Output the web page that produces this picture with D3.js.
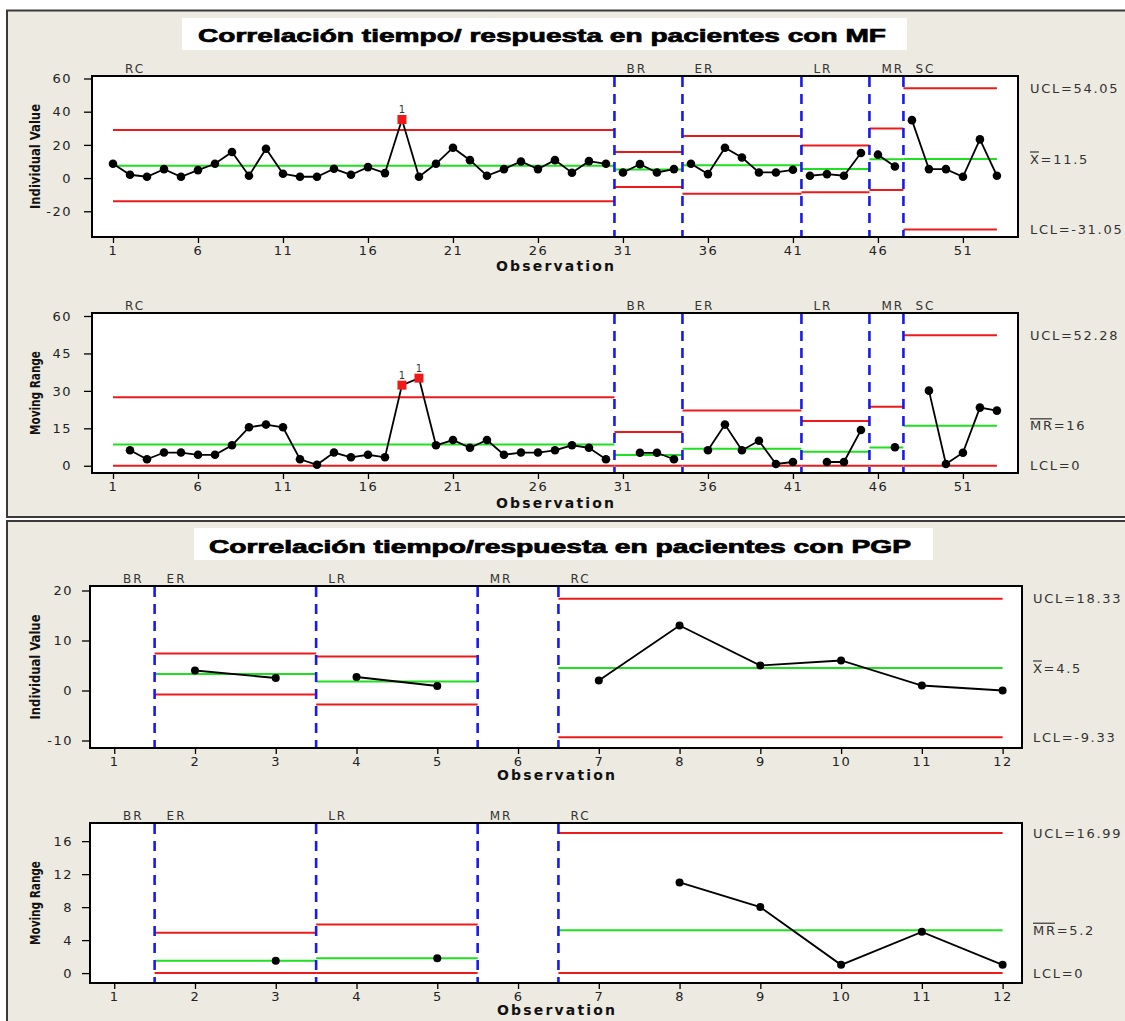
<!DOCTYPE html>
<html><head><meta charset="utf-8">
<script src="https://cdn.jsdelivr.net/npm/d3@7"></script>
<style>body{margin:0;background:#fff}</style>
</head><body>
<svg id="c" width="1125" height="1021"></svg>
<script>
// ---------------- DATA ----------------
// MF (top panel)
const mfTitle = "Correlación tiempo/ respuesta en pacientes con MF";
const mfStageNames = ["RC","BR","ER","LR","MR","SC"];
const mfStageFirst = [1,31,35,42,46,48];
const mfStageLast  = [30,34,41,45,47,53];
const mfIndividual = [8.6,2.0,0.8,5.4,0.8,4.8,8.6,15.7,1.4,17.7,
                      2.6,0.8,0.8,5.6,2.0,6.6,3.0,35.3,0.8,8.6,
                      18.3,10.8,1.4,5.4,10.0,5.4,10.8,3.2,10.2,8.6,
                      3.4,8.4,3.4,5.4,8.6,2.4,18.3,12.4,3.4,3.4,
                      5.0,1.4,2.4,1.4,15.1,14.1,7.0,34.9,5.4,5.4,
                      0.8,23.3,1.4];
const mfMovingRange = [null,6.2,2.6,5.3,5.3,4.4,4.4,8.2,15.4,16.5,
                       15.4,2.6,0.4,5.3,3.4,4.4,3.4,32.3,35.1,8.2,
                       10.3,7.2,10.3,4.4,5.3,5.3,6.2,8.2,7.2,2.6,
                       null,5.2,5.2,2.6,null,6.2,16.5,6.2,10.0,0.7,
                       1.5,null,1.5,1.5,14.3,null,7.4,null,30.1,0.7,
                       5.2,23.3,22.1];
const mfIndUCL = [28.9,15.7,25.3,19.7,29.9,54.05];
const mfIndCL  = [7.4,5.15,7.8,5.5,11.3,11.5];
const mfIndLCL = [-14.0,-5.4,-9.5,-8.6,-7.2,-31.05];
const mfMrUCL  = [27.4,13.5,22.1,17.9,23.6,52.28];
const mfMrCL   = [8.5,4.3,6.8,5.6,7.3,16.0];
const mfMrLCL  = [0,0,0,0,0,0];
const mfIndFlagged = [18];
const mfMrFlagged = [18,19];
const mfXTicks = [1,6,11,16,21,26,31,36,41,46,51];
const mfIndYTicks = [-20,0,20,40,60];
const mfMrYTicks = [0,15,30,45,60];
const mfIndLabels = ["UCL=54.05","X=11.5","LCL=-31.05"];
const mfMrLabels = ["UCL=52.28","MR=16","LCL=0"];

// PGP (bottom panel)
const pgpTitle = "Correlación tiempo/respuesta en pacientes con PGP";
const pgpStageNames = ["BR","ER","LR","MR","RC"];
const pgpStageFirst = [1,2,4,6,7];
const pgpStageLast  = [1,3,5,6,12];
const pgpIndividual = [null,4.0,2.5,2.7,0.9,null,2,13,5,6,1,0];
const pgpMovingRange = [null,null,1.5,null,1.8,null,null,11,8,1,5,1];
const pgpIndUCL = [null,7.4,6.8,null,18.33];
const pgpIndCL  = [null,3.3,1.8,null,4.5];
const pgpIndLCL = [null,-0.8,-2.8,null,-9.33];
const pgpMrUCL  = [null,4.9,5.9,null,16.99];
const pgpMrCL   = [null,1.5,1.8,null,5.2];
const pgpMrLCL  = [null,0,0,null,0];
const pgpXTicks = [1,2,3,4,5,6,7,8,9,10,11,12];
const pgpIndYTicks = [-10,0,10,20];
const pgpMrYTicks = [0,4,8,12,16];
const pgpIndLabels = ["UCL=18.33","X=4.5","LCL=-9.33"];
const pgpMrLabels = ["UCL=16.99","MR=5.2","LCL=0"];

// ---------------- DRAWING ----------------
const RED = "#ee1a1a", GREEN = "#1ee01e", BLUE = "#1a1af0";
const FONT = "'DejaVu Sans', Verdana, sans-serif";
const svg = d3.select("#c");

// panels
svg.append("rect").attr("x",7).attr("y",10.5).attr("width",1130).attr("height",506.5)
  .attr("fill","#edeae2").attr("stroke","#3a3a3a").attr("stroke-width",2);
svg.append("rect").attr("x",7).attr("y",521).attr("width",1130).attr("height",520)
  .attr("fill","#edeae2").attr("stroke","#3a3a3a").attr("stroke-width",2);

function title(text, bx, by, bw, bh, tx, ty, tlen, fs) {
  svg.append("rect").attr("x",bx).attr("y",by).attr("width",bw).attr("height",bh).attr("fill","#fff");
  svg.append("text").attr("x",tx).attr("y",ty).text(text)
    .attr("font-family","'Liberation Sans', Arial, sans-serif").attr("font-weight","bold")
    .attr("font-size",fs).attr("fill","#000").attr("stroke","#000").attr("stroke-width",0.7)
    .attr("textLength",tlen).attr("lengthAdjust","spacingAndGlyphs");
}
title(mfTitle, 182, 18, 725, 32, 198, 42, 688, 19);
title(pgpTitle, 194, 528, 739, 32, 209, 553, 702, 17.5);

function drawChart(o) {
  const x = d3.scaleLinear().domain(o.xDomain).range([o.l, o.r]);
  const y = d3.scaleLinear().domain(o.yDomain).range([o.b, o.t]);
  const g = svg.append("g");
  g.append("rect").attr("x",o.l).attr("y",o.t).attr("width",o.r-o.l).attr("height",o.b-o.t).attr("fill","#fff");
  const N = o.values.length;

  // control limit lines per stage
  o.names.forEach((nm,i) => {
    const x0 = Math.max(1, o.first[i]-0.5), x1 = Math.min(N, o.last[i]+0.5);
    [[o.ucl,RED],[o.lcl,RED],[o.cl,GREEN]].forEach(([arr,c]) => {
      if (arr[i] == null) return;
      g.append("line").attr("x1",x(x0)).attr("x2",x(x1)).attr("y1",y(arr[i])).attr("y2",y(arr[i]))
        .attr("stroke",c).attr("stroke-width",2);
    });
  });

  // stage boundaries
  o.first.slice(1).forEach(f => {
    g.append("line").attr("x1",x(f-0.5)).attr("x2",x(f-0.5)).attr("y1",o.t+1).attr("y2",o.b-1)
      .attr("stroke",BLUE).attr("stroke-width",2.6).attr("stroke-dasharray","10,7");
  });

  // data lines per stage
  const pts = o.values.map((v,i) => ({obs:i+1, v:v}));
  const line = d3.line().defined(d => d.v != null).x(d => x(d.obs)).y(d => y(d.v));
  o.names.forEach((nm,i) => {
    const seg = pts.filter(d => d.obs >= o.first[i] && d.obs <= o.last[i]);
    g.append("path").datum(seg).attr("d",line).attr("fill","none")
      .attr("stroke","#000").attr("stroke-width",1.8);
  });

  // points
  const valid = pts.filter(d => d.v != null);
  g.selectAll("circle.pt").data(valid.filter(d => !o.flagged.includes(d.obs))).enter()
    .append("circle").attr("cx",d=>x(d.obs)).attr("cy",d=>y(d.v)).attr("r",o.pr).attr("fill","#000");
  const fl = valid.filter(d => o.flagged.includes(d.obs));
  g.selectAll("rect.fl").data(fl).enter().append("rect")
    .attr("x",d=>x(d.obs)-4.5).attr("y",d=>y(d.v)-4.5).attr("width",9).attr("height",9).attr("fill",RED);
  g.selectAll("text.fl").data(fl).enter().append("text")
    .attr("x",d=>x(d.obs)).attr("y",d=>y(d.v)-6).attr("text-anchor","middle")
    .attr("font-family",FONT).attr("font-size",10).attr("fill","#333").text("1");

  // axes
  const fmt = d => String(d);
  const xa = g.append("g").attr("transform",`translate(0,${o.b})`)
    .call(d3.axisBottom(x).tickValues(o.xTicks).tickSize(6).tickPadding(3).tickFormat(fmt));
  const ya = g.append("g").attr("transform",`translate(${o.l},0)`)
    .call(d3.axisLeft(y).tickValues(o.yTicks).tickSize(o.yts).tickPadding(o.ytp).tickFormat(fmt));
  [xa,ya].forEach(a => {
    a.select(".domain").remove();
    a.selectAll("line").attr("stroke","#000").attr("stroke-width",1.3);
    a.selectAll("text").attr("font-family",FONT).attr("font-size",13).attr("fill","#222")
      .attr("letter-spacing","1.5px");
  });

  // frame
  g.append("rect").attr("x",o.l).attr("y",o.t).attr("width",o.r-o.l).attr("height",o.b-o.t)
    .attr("fill","none").attr("stroke","#000").attr("stroke-width",2);

  // stage labels
  o.names.forEach((nm,i) => {
    const lx = i === 0 ? o.l + 33 : x(o.first[i]-0.5) + 12;
    g.append("text").attr("x",lx).attr("y",o.t-3).text(nm)
      .attr("font-family",FONT).attr("font-size",12).attr("fill","#333").attr("letter-spacing","2px");
  });

  // right labels (last stage's limits)
  const li = o.names.length - 1;
  [[o.ucl[li],o.labels[0],0],[o.cl[li],o.labels[1],o.overN],[o.lcl[li],o.labels[2],0]].forEach(([v,txt,ov]) => {
    const t = g.append("text").attr("x",o.lx).attr("y",y(v)).attr("dy","0.35em").text(txt)
      .attr("font-family",FONT).attr("font-size",13).attr("fill","#333").attr("letter-spacing","1.7px");
    if (ov > 0) {
      const len = t.node().getSubStringLength(0, ov) - 1.7;
      g.append("line").attr("x1",o.lx).attr("x2",o.lx+len).attr("y1",y(v)-7).attr("y2",y(v)-7)
        .attr("stroke","#333").attr("stroke-width",1.2);
    }
  });

  // axis titles
  g.append("text").attr("transform",`translate(${o.ytx},${(o.t+o.b)/2}) rotate(-90)`)
    .attr("text-anchor","middle").text(o.yTitle)
    .attr("font-family","'DejaVu Sans Condensed','DejaVu Sans',sans-serif").attr("font-weight","bold")
    .attr("font-size",14.5).attr("fill","#111").attr("textLength",o.ytl).attr("lengthAdjust","spacingAndGlyphs");
  g.append("text").attr("x",(o.l+o.r)/2 - 59).attr("y",o.obsY).text("Observation")
    .attr("font-family",FONT).attr("font-weight","bold").attr("font-size",14).attr("fill","#111")
    .attr("textLength",118).attr("lengthAdjust","spacing");
}

// MF individual
drawChart({l:92, r:1018, t:76, b:237, xDomain:[-0.235,54.24], yDomain:[-35.5,61.5],
  xTicks:mfXTicks, yTicks:mfIndYTicks, names:mfStageNames, first:mfStageFirst, last:mfStageLast,
  values:mfIndividual, ucl:mfIndUCL, cl:mfIndCL, lcl:mfIndLCL, flagged:mfIndFlagged,
  labels:mfIndLabels, overN:1, lx:1030, yTitle:"Individual Value", ytl:105, ytx:40, obsY:271,
  pr:4.3, yts:8, ytp:12});
// MF moving range
drawChart({l:92, r:1018, t:313, b:473, xDomain:[-0.235,54.24], yDomain:[-2.9,61.2],
  xTicks:mfXTicks, yTicks:mfMrYTicks, names:mfStageNames, first:mfStageFirst, last:mfStageLast,
  values:mfMovingRange, ucl:mfMrUCL, cl:mfMrCL, lcl:mfMrLCL, flagged:mfMrFlagged,
  labels:mfMrLabels, overN:2, lx:1030, yTitle:"Moving Range", ytl:84, ytx:40, obsY:508,
  pr:4.3, yts:8, ytp:12});
// PGP individual
drawChart({l:90, r:1022, t:586, b:748, xDomain:[0.7,12.24], yDomain:[-11.5,20.9],
  xTicks:pgpXTicks, yTicks:pgpIndYTicks, names:pgpStageNames, first:pgpStageFirst, last:pgpStageLast,
  values:pgpIndividual, ucl:pgpIndUCL, cl:pgpIndCL, lcl:pgpIndLCL, flagged:[],
  labels:pgpIndLabels, overN:1, lx:1033, yTitle:"Individual Value", ytl:105, ytx:40, obsY:780,
  pr:4, yts:8, ytp:9});
// PGP moving range
drawChart({l:90, r:1022, t:823, b:983, xDomain:[0.7,12.24], yDomain:[-1.2,18.2],
  xTicks:pgpXTicks, yTicks:pgpMrYTicks, names:pgpStageNames, first:pgpStageFirst, last:pgpStageLast,
  values:pgpMovingRange, ucl:pgpMrUCL, cl:pgpMrCL, lcl:pgpMrLCL, flagged:[],
  labels:pgpMrLabels, overN:2, lx:1033, yTitle:"Moving Range", ytl:84, ytx:40, obsY:1015,
  pr:4, yts:8, ytp:9});
</script>
</body></html>
